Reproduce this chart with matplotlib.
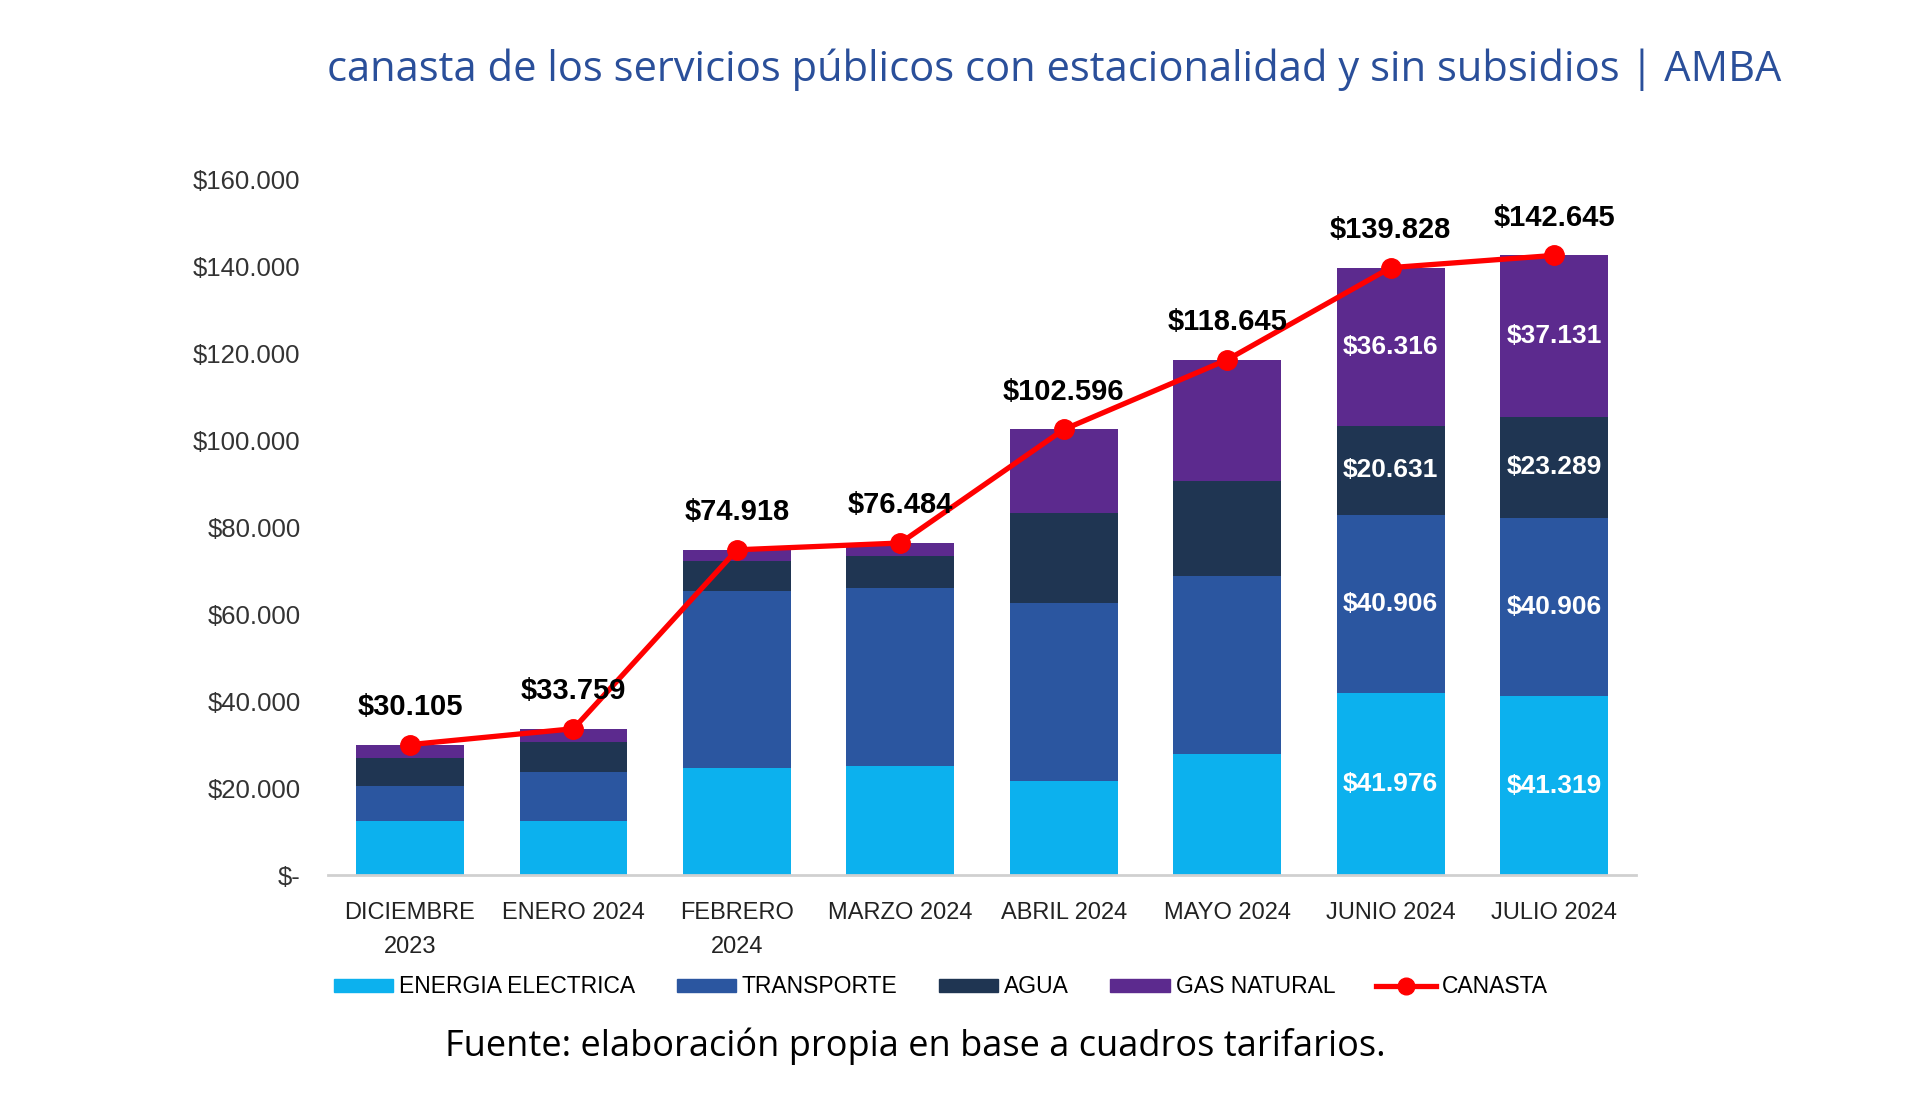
import matplotlib
matplotlib.use("Agg")
import matplotlib.pyplot as plt
from matplotlib.ticker import FuncFormatter
from matplotlib.lines import Line2D
from matplotlib.patches import Patch
from matplotlib import font_manager
import numpy as np

# data
meses = ["DICIEMBRE\n2023", "ENERO 2024", "FEBRERO\n2024", "MARZO 2024",
         "ABRIL 2024", "MAYO 2024", "JUNIO 2024", "JULIO 2024"]
energia = [12470, 12470, 24640, 25260, 21730, 28040, 41976, 41319]
transporte = [8170, 11400, 40906, 40906, 40906, 40906, 40906, 40906]
agua = [6310, 6930, 6684, 7214, 20844, 21824, 20631, 23289]
gas = [3155, 2959, 2688, 3104, 19116, 27875, 36316, 37131]
canasta = [30105, 33759, 74918, 76484, 102596, 118645, 139828, 142645]

# segments with white labels (only last two months)
etiquetados = [6, 7]

c_energia = "#0cb1ee"
c_transp = "#2b56a0"
c_agua = "#1f3552"
c_gas = "#5c2a8e"
c_rojo = "#ff0000"

# narrow font for the month labels / legend, if there is one
nombres_fuentes = {f.name for f in font_manager.fontManager.ttflist}
narrow = "Liberation Sans"
for cand in ["Liberation Sans Narrow", "DejaVu Sans Condensed"]:
    if cand in nombres_fuentes:
        narrow = cand
        break

def pesos(v):
    return "$" + f"{v:,.0f}".replace(",", ".")

fig = plt.figure(figsize=(19.2, 11.04), dpi=100)
ax = fig.add_axes([0.171, 0.207, 0.681, 0.630])

x = np.arange(len(meses))
w = 0.66
series = [(energia, c_energia), (transporte, c_transp), (agua, c_agua), (gas, c_gas)]
base = np.zeros(len(meses))
for vals, col in series:
    vals = np.array(vals, dtype=float)
    ax.bar(x, vals, w, bottom=base, color=col, zorder=2)
    for i in etiquetados:
        ax.text(x[i], base[i] + vals[i] / 2, pesos(vals[i]), ha="center", va="center",
                color="white", fontsize=19, fontweight="bold",
                family=["Liberation Sans", "DejaVu Sans"], zorder=5)
    base += vals

ax.plot(x, canasta, color=c_rojo, lw=3.8, marker="o", ms=14, zorder=4)
for i, v in enumerate(canasta):
    ax.annotate(pesos(v), (x[i], v), xytext=(0, 17), textcoords="offset points",
                ha="center", va="bottom", fontsize=21, fontweight="bold",
                family=["Liberation Sans", "DejaVu Sans"], color="black", zorder=6)

ax.set_xlim(-0.5, len(meses) - 0.5)
ax.set_ylim(0, 160000)
ax.set_yticks(np.arange(0, 160001, 20000))
ax.yaxis.set_major_formatter(FuncFormatter(lambda v, p: "$-" if v == 0 else pesos(v)))
ax.set_xticks(x)
ax.set_xticklabels(meses, family=[narrow, "DejaVu Sans"], fontsize=19 if narrow != "Liberation Sans" else 17,
                   linespacing=1.7)
for lab in ax.get_yticklabels():
    lab.set_fontsize(18.5)
    lab.set_family(["Liberation Sans", "DejaVu Sans"])
    lab.set_color("#333333")
ax.tick_params(axis="y", length=0, pad=20)
ax.tick_params(axis="x", length=0, pad=19, colors="#222222")
for s in ["top", "right", "left"]:
    ax.spines[s].set_visible(False)
ax.spines["bottom"].set_color("#d0d0d0")
ax.spines["bottom"].set_linewidth(2)

handles = [Patch(color=c_energia), Patch(color=c_transp), Patch(color=c_agua), Patch(color=c_gas),
           Line2D([], [], color=c_rojo, lw=3.8, marker="o", ms=12)]
nombres = ["ENERGIA ELECTRICA", "TRANSPORTE", "AGUA", "GAS NATURAL", "CANASTA"]
fig.legend(handles, nombres, loc="center", bbox_to_anchor=(0.49, 0.106), ncol=5, frameon=False,
           prop={"family": [narrow, "DejaVu Sans"], "size": 16.5},
           handlelength=2.6, handleheight=0.5, handletextpad=0.25, columnspacing=1.8)

fig.text(0.549, 0.937, "canasta de los servicios públicos con estacionalidad y sin subsidios | AMBA",
         ha="center", va="center", fontsize=30, color="#2a4f9a", family=["Open Sans", "DejaVu Sans"])
fig.text(0.4766, 0.052, "Fuente: elaboración propia en base a cuadros tarifarios.",
         ha="center", va="center", fontsize=26, color="black", family=["Open Sans", "DejaVu Sans"])

fig.savefig("out.png", dpi=100, facecolor="white")
